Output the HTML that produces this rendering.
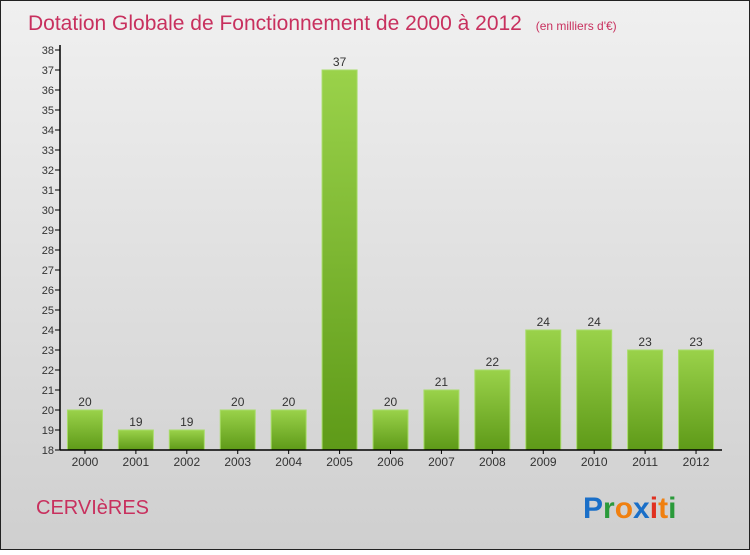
<!DOCTYPE html>
<html><head><meta charset="utf-8"><style>
body{margin:0;width:750px;height:550px;overflow:hidden;font-family:"Liberation Sans","DejaVu Sans",sans-serif}
</style></head><body>
<svg id="c" width="750" height="550" xmlns="http://www.w3.org/2000/svg">
<defs>
<linearGradient id="bg" x1="0" y1="0" x2="0" y2="1"><stop offset="0" stop-color="#f0f0f0"/><stop offset="1" stop-color="#cfcfcf"/></linearGradient>
<linearGradient id="bar" x1="0" y1="0" x2="0" y2="1"><stop offset="0" stop-color="#9ad24a"/><stop offset="1" stop-color="#5e9a18"/></linearGradient>
</defs>
<rect x="0.5" y="0.5" width="749" height="549" fill="url(#bg)" stroke="#222"/>
<text x="28" y="30" font-size="21" fill="#c8305e">Dotation Globale de Fonctionnement de 2000 à 2012 <tspan font-size="12" dx="8">(en milliers d'€)</tspan></text>
<text x="36" y="514" font-size="20" fill="#c8305e">CERVIèRES</text>
<text x="583" y="518" font-size="30" font-weight="bold"><tspan fill="#1a6fc8">P</tspan><tspan fill="#2a9a3a">r</tspan><tspan fill="#f08010">o</tspan><tspan fill="#1a6fc8">x</tspan><tspan fill="#e03020">i</tspan><tspan fill="#f08010">t</tspan><tspan fill="#2a9a3a">i</tspan></text>
<g id="plot"></g>
</svg>
<script>
const years=["2000","2001","2002","2003","2004","2005","2006","2007","2008","2009","2010","2011","2012"];
const values=[20,19,19,20,20,37,20,21,22,24,24,23,23];
const yTicks=[18,19,20,21,22,23,24,25,26,27,28,29,30,31,32,33,34,35,36,37,38];
const NS="http://www.w3.org/2000/svg";
const g=document.getElementById('plot');
const x0=60,x1=722,yTop=50,yBot=450,yMin=18,yMax=38;
const y=v=>yBot-(v-yMin)/(yMax-yMin)*(yBot-yTop);
const step=(x1-x0)/years.length;
const xc=i=>x0+step*(i+0.5)-0.5;
function el(t,a,txt){const e=document.createElementNS(NS,t);for(const k in a)e.setAttribute(k,a[k]);if(txt!==undefined)e.textContent=txt;g.appendChild(e);return e;}
yTicks.forEach(v=>{
 const l=el('line',{x1:x0-5,x2:x0,y1:y(v),y2:y(v),stroke:'#000'});
 
 
 const t=el('text',{x:x0-6,y:y(v)+4,'text-anchor':'end','font-size':11,fill:'#333'},v);
 
 
});
values.forEach((v,i)=>{
 const w=35,cx=xc(i);
 const r=el('rect',{x:cx-w/2,y:y(v),width:w,height:yBot-y(v),fill:'url(#bar)',stroke:'#a8dc6a','stroke-width':1});
 
 
 const t=el('text',{x:cx,y:y(v)-4,'text-anchor':'middle','font-size':12,fill:'#333'},v);
 
 
 const xl=el('text',{x:cx,y:yBot+16,'text-anchor':'middle','font-size':12,fill:'#333'},years[i]);
 
 
 const xt=el('line',{x1:cx,x2:cx,y1:yBot,y2:yBot+4,stroke:'#000'});
 
 
});
const ya=el('line',{x1:x0,x2:x0,y1:yTop-5,y2:yBot,stroke:'#000','stroke-width':1.5});


const xa=el('line',{x1:x0,x2:x1,y1:yBot,y2:yBot,stroke:'#000','stroke-width':1.5});


</script>
</body></html>
